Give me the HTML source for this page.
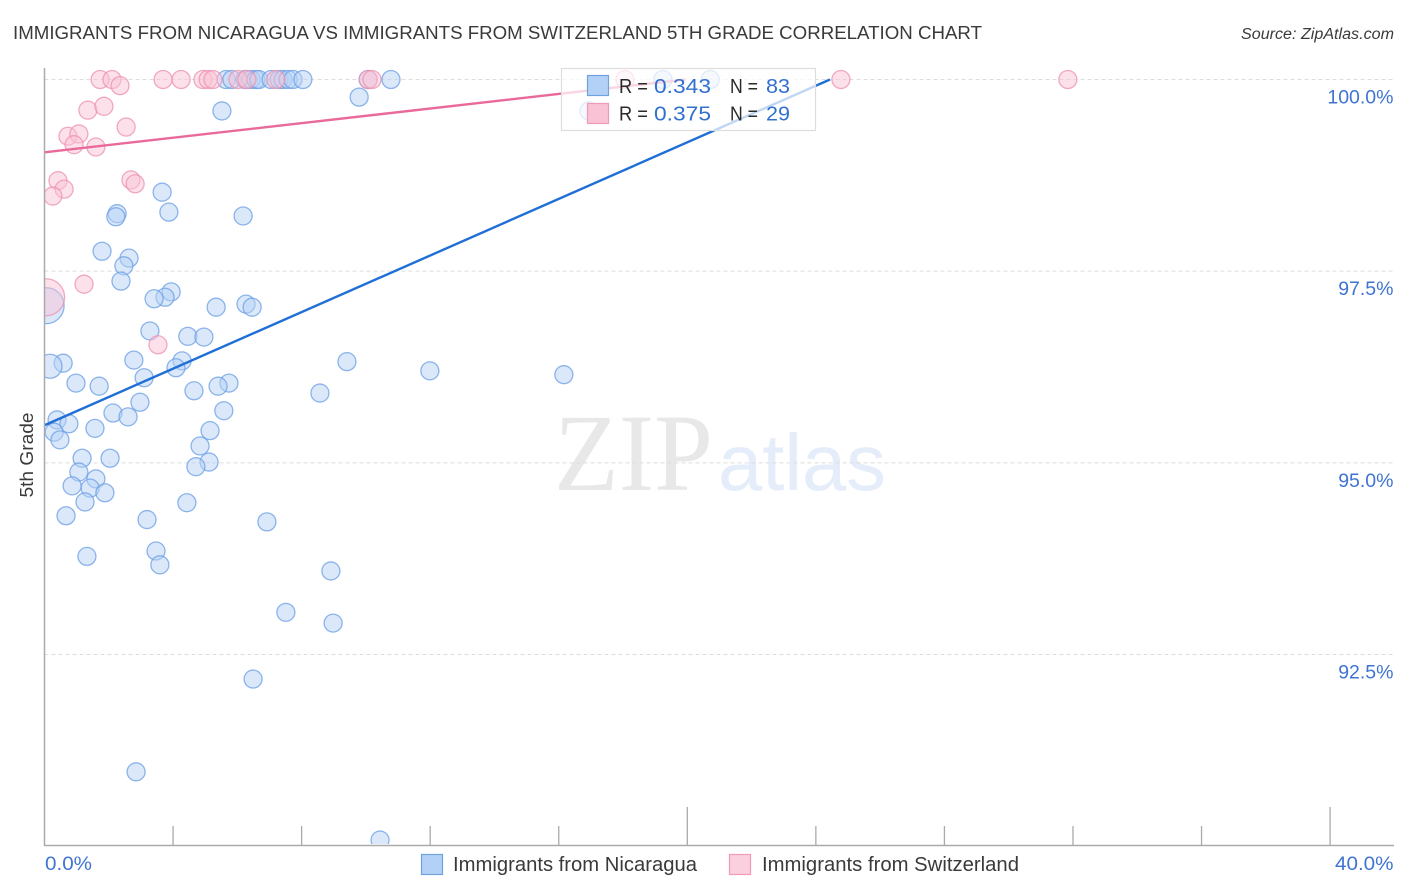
<!DOCTYPE html>
<html lang="en">
<head>
<meta charset="utf-8">
<title>Immigrants from Nicaragua vs Immigrants from Switzerland 5th Grade Correlation Chart</title>
<style>
html,body{margin:0;padding:0;background:#fff;}
svg{display:block;font-family:"Liberation Sans",sans-serif;}
</style>
</head>
<body>
<svg id="chart" xmlns="http://www.w3.org/2000/svg" width="1406" height="892" viewBox="0 0 1406 892">
  <defs>
    <clipPath id="plot-clip"><rect x="44" y="60" width="1350" height="784"/></clipPath>
  </defs>
  <rect x="0" y="0" width="1406" height="892" fill="#ffffff"/>
  <text x="13" y="39" font-size="18.5" fill="#3a3a3a" textLength="969" lengthAdjust="spacingAndGlyphs">IMMIGRANTS FROM NICARAGUA VS IMMIGRANTS FROM SWITZERLAND 5TH GRADE CORRELATION CHART</text>
  <text x="1241" y="39" font-size="15.5" font-style="italic" fill="#3a3a3a" textLength="153" lengthAdjust="spacingAndGlyphs">Source: ZipAtlas.com</text>
  <g>
    <text x="554" y="490" font-family="'Liberation Serif',serif" font-size="110" fill="#e8e8e8" textLength="159" lengthAdjust="spacingAndGlyphs">ZIP</text>
    <text x="718" y="490" font-size="80" fill="#e4edf9" textLength="168" lengthAdjust="spacingAndGlyphs">atlas</text>
  </g>
  <g id="grid"></g>
  <g id="marks" clip-path="url(#plot-clip)"></g>
  <g id="axes"></g>
  <text transform="translate(33 455) rotate(-90)" text-anchor="middle" font-size="18" fill="#3a3a3a" textLength="85" lengthAdjust="spacingAndGlyphs">5th Grade</text>

  <g>
    <rect x="561.5" y="68.5" width="254" height="62" fill="#ffffff" fill-opacity="0.72" stroke="#dddddd" stroke-width="1.2"/>
    <rect x="587.5" y="75.5" width="21" height="20" fill="#b3d1f7" stroke="#6fa3e0" stroke-width="1.2"/>
    <rect x="587.5" y="103.5" width="21" height="20" fill="#f9c3d5" stroke="#f09ab8" stroke-width="1.2"/>
    <text x="619" y="93" font-size="20" fill="#2a2a2a" textLength="29" lengthAdjust="spacingAndGlyphs">R =</text>
    <text x="654" y="93" font-size="20" fill="#3170cf" textLength="57" lengthAdjust="spacingAndGlyphs">0.343</text>
    <text x="730" y="93" font-size="20" fill="#2a2a2a" textLength="28" lengthAdjust="spacingAndGlyphs">N =</text>
    <text x="766" y="93" font-size="20" fill="#3170cf" textLength="24" lengthAdjust="spacingAndGlyphs">83</text>
    <text x="619" y="120.5" font-size="20" fill="#2a2a2a" textLength="29" lengthAdjust="spacingAndGlyphs">R =</text>
    <text x="654" y="120.5" font-size="20" fill="#3170cf" textLength="57" lengthAdjust="spacingAndGlyphs">0.375</text>
    <text x="730" y="120.5" font-size="20" fill="#2a2a2a" textLength="28" lengthAdjust="spacingAndGlyphs">N =</text>
    <text x="766" y="120.5" font-size="20" fill="#3170cf" textLength="24" lengthAdjust="spacingAndGlyphs">29</text>
  </g>

  <g>
    <rect x="421.5" y="854.5" width="21" height="20" fill="#b3d1f7" stroke="#6fa3e0" stroke-width="1.2"/>
    <text x="453" y="871" font-size="20" fill="#3a3a3a" textLength="244" lengthAdjust="spacingAndGlyphs">Immigrants from Nicaragua</text>
    <rect x="729.5" y="854.5" width="21" height="20" fill="#fbd0de" stroke="#f09ab8" stroke-width="1.2"/>
    <text x="762" y="871" font-size="20" fill="#3a3a3a" textLength="257" lengthAdjust="spacingAndGlyphs">Immigrants from Switzerland</text>
  </g>
</svg>
<script>
var nicaraguaX = [5.65,5.83,6.24,6.43,6.58,6.67,7.05,7.30,7.42,7.58,7.73,8.04,10.07,10.78,19.24,20.71,
  5.52,9.79,3.66,3.87,2.26,2.22,6.18,1.79,2.63,2.47,2.38,3.94,3.75,3.41,5.34,6.27,6.46,3.28,4.46,4.96,
  0.58,2.78,4.28,4.09,9.41,11.99,16.16,3.10,0.98,1.70,5.74,5.40,4.65,8.57,2.97,2.13,2.60,5.58,0.39,0.76,
  1.57,0.30,5.15,0.48,4.84,1.17,2.04,5.12,4.71,1.07,1.60,0.86,1.42,1.88,1.26,4.43,0.67,3.19,6.92,3.47,
  1.32,3.59,8.91,7.51,8.98,6.49,2.85,10.44,16.94];
var nicaraguaY = [100,100,100,100,100,100,100,100,100,100,100,100,100,100,100,100,
  99.59,99.77,98.53,98.27,98.25,98.21,98.22,97.76,97.67,97.57,97.37,97.23,97.16,97.14,97.03,97.07,97.03,96.72,96.65,96.64,
  96.30,96.34,96.33,96.24,96.32,96.20,96.15,96.11,96.04,96.00,96.04,96.00,95.94,95.91,95.79,95.65,95.60,95.68,95.56,95.51,
  95.45,95.40,95.42,95.30,95.22,95.06,95.06,95.01,94.95,94.88,94.79,94.70,94.67,94.61,94.49,94.48,94.31,94.26,94.23,93.85,
  93.78,93.67,93.59,93.05,92.91,92.18,90.97,90.08,99.59];
var nicaraguaLargeX = [0.05,0.17];
var nicaraguaLargeY = [97.05,96.26];
var nicaraguaLargeRadius = [18,12];

var switzerlandX = [1.73,2.10,3.69,4.25,4.93,5.09,5.24,6.02,6.30,7.20,10.07,10.19,18.06,24.78,31.84,
  2.35,1.35,1.85,2.54,0.73,1.07,0.92,1.60,0.42,0.61,0.26,2.69,2.82,1.23,3.53];
var switzerlandY = [100,100,100,100,100,100,100,100,100,100,100,100,100,100,100,
  99.92,99.60,99.65,99.38,99.26,99.29,99.15,99.12,98.68,98.57,98.48,98.69,98.64,97.33,96.54];
var switzerlandLargeX = [0.05];
var switzerlandLargeY = [97.16];
var switzerlandLargeRadius = [18.5];

var nicaraguaTrendX = [0,24.44];
var nicaraguaTrendY = [95.49,100];
var switzerlandTrendX = [0,19.95];
var switzerlandTrendY = [99.05,100];

var yTickValues = [100,97.5,95,92.5];
var yTickLabels = ['100.0%','97.5%','95.0%','92.5%'];
var xTickValues = [4,8,12,16,20,24,28,32,36,40];
var xMajorTicks = [20,40];
var xEndLabels = ['0.0%','40.0%'];

var SVGNS = 'http://www.w3.org/2000/svg';
function xScale(v){ return 44.5 + v * 32.14; }
function yScale(v){ return 79.5 + (100 - v) * 76.67; }
function make(tag, attrs, parent){
  var el = document.createElementNS(SVGNS, tag);
  for (var k in attrs) { el.setAttribute(k, attrs[k]); }
  parent.appendChild(el);
  return el;
}
var grid = document.getElementById('grid');
var marks = document.getElementById('marks');
var axes = document.getElementById('axes');

yTickValues.forEach(function(v, i){
  var line = make('line', {x1:44.5, x2:1394, y1:yScale(v), y2:yScale(v), stroke:'#dddddd', 'stroke-width':1, 'stroke-dasharray':'4 3'}, grid);
  
  
  var label = make('text', {x:1393.5, y:yScale(v)+24, 'text-anchor':'end', 'font-size':19.5, fill:'#3f74d2'}, axes);
  
  
  label.textContent = yTickLabels[i];
});

var yAxis = make('line', {x1:44.5, x2:44.5, y1:68, y2:846, stroke:'#aaaaaa', 'stroke-width':1.5}, axes);


var xAxis = make('line', {x1:44, x2:1394, y1:845.5, y2:845.5, stroke:'#aaaaaa', 'stroke-width':1.5}, axes);



xTickValues.forEach(function(v){
  var top = xMajorTicks.indexOf(v) >= 0 ? 807 : 826;
  var tick = make('line', {x1:xScale(v), x2:xScale(v), y1:top, y2:845.5, stroke:'#aaaaaa', 'stroke-width':1.3}, axes);
  
  
});

var xLeft = make('text', {x:45, y:870, 'font-size':19.5, fill:'#3f74d2', textLength:47, lengthAdjust:'spacingAndGlyphs'}, axes);


xLeft.textContent = xEndLabels[0];
var xRight = make('text', {x:1335, y:870, 'font-size':19.5, fill:'#3f74d2', textLength:58.5, lengthAdjust:'spacingAndGlyphs'}, axes);


xRight.textContent = xEndLabels[1];

function drawPoints(xs, ys, radii, name, fill, stroke){
  xs.forEach(function(x, i){
    var r = radii ? radii[i] : 9;
    var c = make('circle', {cx:xScale(x), cy:yScale(ys[i]), r:r, fill:fill, 'fill-opacity':0.5, stroke:stroke, 'stroke-opacity':0.75, 'stroke-width':1.3}, marks);
    
    
  });
}
drawPoints(nicaraguaX, nicaraguaY, null, 'point-nicaragua', '#b6d1f6', '#6a9de4');
drawPoints(nicaraguaLargeX, nicaraguaLargeY, nicaraguaLargeRadius, 'point-nicaragua-large', '#b6d1f6', '#6a9de4');
drawPoints(switzerlandX, switzerlandY, null, 'point-switzerland', '#f9c3d5', '#ec8fb0');
drawPoints(switzerlandLargeX, switzerlandLargeY, switzerlandLargeRadius, 'point-switzerland-large', '#f9c3d5', '#ec8fb0');

var trendBlue = make('line', {x1:xScale(nicaraguaTrendX[0]), y1:yScale(nicaraguaTrendY[0]), x2:xScale(nicaraguaTrendX[1]), y2:yScale(nicaraguaTrendY[1]), stroke:'#1f6fd6', 'stroke-width':2.4}, marks);


var trendPink = make('line', {x1:xScale(switzerlandTrendX[0]), y1:yScale(switzerlandTrendY[0]), x2:xScale(switzerlandTrendX[1]), y2:yScale(switzerlandTrendY[1]), stroke:'#e96a9a', 'stroke-width':2.4}, marks);


</script>
</body>
</html>
